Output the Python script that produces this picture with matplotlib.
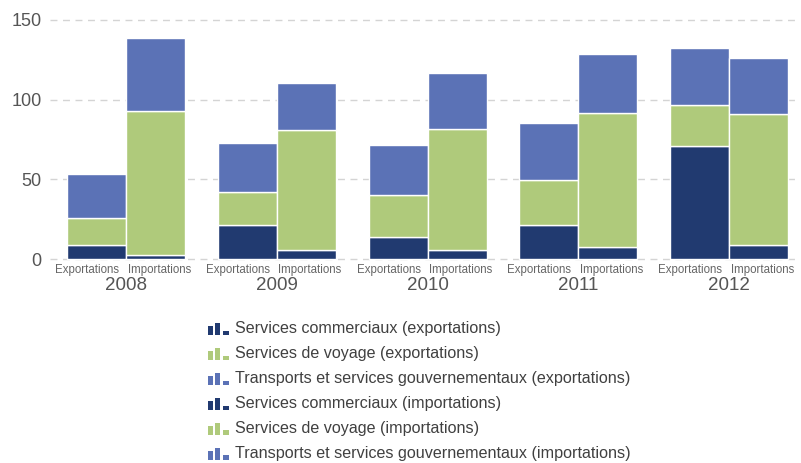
import numpy as np
import matplotlib
matplotlib.use("Agg")
import matplotlib.pyplot as plt
from matplotlib.patches import Rectangle
from matplotlib.legend_handler import HandlerBase

plt.rcParams['font.family'] = ['Liberation Sans', 'DejaVu Sans']

years = ["2008", "2009", "2010", "2011", "2012"]
sub_labels = ["Exportations", "Importations"]

exp_commercial = [9.0, 21.3, 13.8, 21.5, 70.6]
exp_voyage = [16.7, 20.7, 26.4, 28.1, 26.0]
exp_transport = [27.8, 30.8, 31.1, 35.9, 36.1]

imp_commercial = [2.7, 5.8, 5.8, 7.3, 8.8]
imp_voyage = [89.9, 74.9, 75.7, 84.3, 82.2]
imp_transport = [46.0, 29.5, 35.4, 37.0, 35.1]

series_names = [
    "Services commerciaux (exportations)",
    "Services de voyage (exportations)",
    "Transports et services gouvernementaux (exportations)",
    "Services commerciaux (importations)",
    "Services de voyage (importations)",
    "Transports et services gouvernementaux (importations)",
]

c_dark = "#213a70"
c_green = "#afca7b"
c_blue = "#5b72b6"
colors = [c_dark, c_green, c_blue]


class BarIconHandler(HandlerBase):
    # little three-bar icon like the original legend
    def create_artists(self, legend, orig_handle, xdescent, ydescent,
                       width, height, fontsize, trans):
        col = orig_handle.get_facecolor()
        arts = []
        for x0, x1, h in [(0.0, 0.24, 0.7), (0.34, 0.58, 1.0), (0.70, 1.0, 0.35)]:
            r = Rectangle((x0 * width - xdescent, -ydescent - 1), (x1 - x0) * width,
                          height * h, facecolor=col, edgecolor='none', transform=trans)
            arts.append(r)
        return arts


fig = plt.figure(figsize=(8.01, 4.63), dpi=100)
ax = fig.add_axes([50 / 801, 0.4337, 750 / 801, 0.5404])

x = np.arange(len(years))
w = 0.392
off = 0.196

exp_data = [exp_commercial, exp_voyage, exp_transport]
imp_data = [imp_commercial, imp_voyage, imp_transport]

handles = []
bottom = np.zeros(len(years))
for vals, col in zip(exp_data, colors):
    b = ax.bar(x - off, vals, w, bottom=bottom, color=col, edgecolor="white", linewidth=1, zorder=3)
    handles.append(b)
    bottom += np.array(vals)

bottom = np.zeros(len(years))
for vals, col in zip(imp_data, colors):
    b = ax.bar(x + off, vals, w, bottom=bottom, color=col, edgecolor="white", linewidth=1, zorder=3)
    handles.append(b)
    bottom += np.array(vals)

ax.set_xlim(-0.505, 4.47)
ax.set_ylim(-2, 155)
ax.set_yticks([0, 50, 100, 150])
ax.yaxis.grid(True, linestyle=(0, (5, 4)), color="#d4d4d4", linewidth=1, zorder=0)
ax.tick_params(axis='y', length=0, pad=6, labelsize=13, labelcolor="#555555")
ax.set_xticks([])
for s in ax.spines.values():
    s.set_visible(False)

for i, yr in enumerate(years):
    # sub labels hug the group centre, one each side
    ax.annotate(sub_labels[0], xy=(x[i], 0), xycoords=('data', 'axes fraction'),
                xytext=(-5, -5.8), textcoords='offset points', ha='right', va='center',
                fontsize=8.3, color="#666666")
    ax.annotate(sub_labels[1], xy=(x[i], 0), xycoords=('data', 'axes fraction'),
                xytext=(1, -5.8), textcoords='offset points', ha='left', va='center',
                fontsize=8.3, color="#666666")
    ax.annotate(yr, xy=(x[i], 0), xycoords=('data', 'axes fraction'),
                xytext=(0, -16.5), textcoords='offset points', ha='center', va='center',
                fontsize=13.5, color="#555555")

leg_handles = [h.patches[0] for h in handles]
fig.legend(leg_handles, series_names, loc='upper left', bbox_to_anchor=(208 / 801, 1 - 321 / 463),
           frameon=False, fontsize=11.6, labelcolor="#404040",
           handler_map={Rectangle: BarIconHandler()},
           handlelength=1.3, handleheight=0.75, handletextpad=0.4, labelspacing=0.62,
           borderpad=0, borderaxespad=0)

fig.savefig("out.png", dpi=100)
